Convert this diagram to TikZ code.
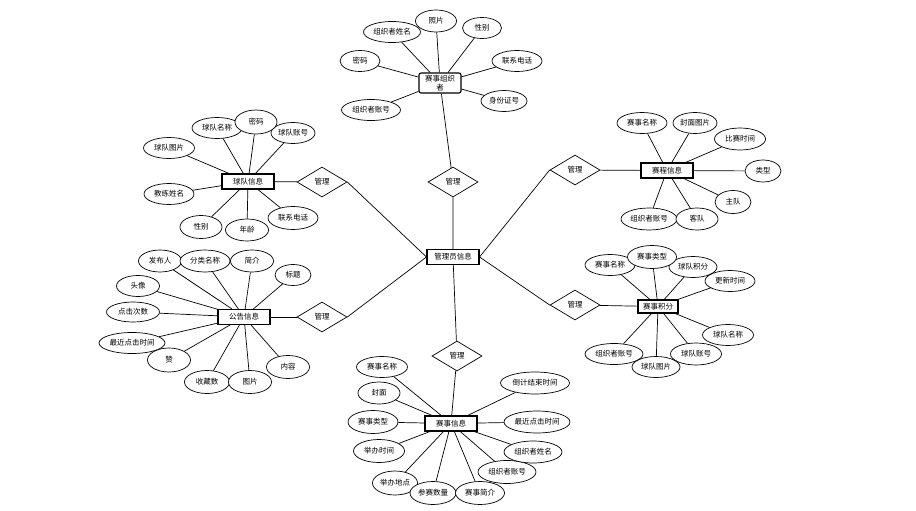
\documentclass[tikz,border=0pt]{standalone}
\usepackage{fontspec}
\setmainfont{Noto Sans CJK SC}
\usetikzlibrary{shapes}

\begin{document}
\begin{tikzpicture}[x=1pt, y=-1pt, line width=0.7pt,
  ent/.style={rectangle, draw, line width=1.1pt, fill=white, minimum width=52pt, minimum height=15pt, inner sep=1pt, font=\fontsize{7.5}{8.5}\selectfont},
  attr/.style={ellipse, draw, fill=white, minimum height=21pt, inner sep=0pt, font=\fontsize{7.5}{8.5}\selectfont},
  rel/.style={diamond, draw, fill=white, minimum width=50pt, minimum height=30pt, inner sep=0pt, font=\fontsize{7.5}{8.5}\selectfont}]

\useasboundingbox (0,0) rectangle (916,511);

% entities
\node[ent] (admin) at (453,257) {管理员信息};
\node[ent, rounded corners=2pt, align=center, minimum width=42pt, minimum height=20pt] (org) at (440,83) {赛事组织\\者};
\node[ent] (team) at (248,181.5) {球队信息};
\node[ent] (notice) at (244,317) {公告信息};
\node[ent] (event) at (451,423.5) {赛事信息};
\node[ent] (sched) at (667,170.5) {赛程信息};
\node[ent, minimum width=40pt, minimum height=13pt] (score) at (658,306.5) {赛事积分};

% relations
\node[rel] (D1) at (453,182) {管理};
\node[rel] (D2) at (322,182) {管理};
\node[rel] (D3) at (322,317) {管理};
\node[rel] (D4) at (575,170) {管理};
\node[rel] (D5) at (575,305) {管理};
\node[rel] (D6) at (457,356) {管理};

\draw (admin) -- (D1) -- (org);
\draw (D2.east) -- (admin.west);
\draw (D2) -- (team);
\draw (D3.east) -- (admin.west);
\draw (D3) -- (notice);
\draw (D4.west) -- (admin.east);
\draw (D4) -- (sched);
\draw (D5.west) -- (admin.east);
\draw (D5) -- (score);
\draw (admin) -- (D6) -- (event);

% organizer
\node[attr, minimum width=57pt] (O1) at (392,32) {组织者姓名};
\node[attr, minimum width=41pt, minimum height=22pt] (O2) at (436,21) {照片};
\node[attr, minimum width=39pt] (O3) at (482,28) {性别};
\node[attr, minimum width=50pt] (O4) at (517,61) {联系电话};
\node[attr, minimum width=46pt] (O5) at (504,101) {身份证号};
\node[attr, minimum width=59pt] (O6) at (371,110) {组织者账号};
\node[attr, minimum width=40pt] (O7) at (360,61) {密码};
\draw (org) -- (O1);
\draw (org) -- (O2);
\draw (org) -- (O3);
\draw (org) -- (O4);
\draw (org) -- (O5);
\draw (org) -- (O6);
\draw (org) -- (O7);

% team
\node[attr, minimum width=50pt] (T1) at (217,128) {球队名称};
\node[attr, minimum width=44pt] (T3) at (293,133) {球队账号};
\node[attr, minimum width=42pt, minimum height=24pt] (T2) at (256,122) {密码};
\node[attr, minimum width=51pt] (T4) at (169,148) {球队图片};
\node[attr, minimum width=50pt] (T5) at (169,194) {教练姓名};
\node[attr, minimum width=42pt, minimum height=23pt] (T6) at (201,227) {性别};
\node[attr, minimum width=43pt, minimum height=22pt] (T7) at (247,230) {年龄};
\node[attr, minimum width=50pt, minimum height=23pt] (T8) at (293,218) {联系电话};
\draw (team) -- (T1);
\draw (team) -- (T2);
\draw (team) -- (T3);
\draw (team) -- (T4);
\draw (team) -- (T5);
\draw (team) -- (T6);
\draw (team) -- (T7);
\draw (team) -- (T8);

% notice
\node[attr, minimum width=43pt, minimum height=22pt] (N1) at (160,261) {发布人};
\node[attr, minimum width=50pt, minimum height=22pt] (N2) at (205,261) {分类名称};
\node[attr, minimum width=43pt, minimum height=22pt] (N3) at (252,261) {简介};
\node[attr, minimum width=36pt] (N4) at (293,275) {标题};
\node[attr, minimum width=43pt] (N5) at (138,286) {头像};
\node[attr, minimum width=53pt, minimum height=20pt] (N6) at (133,312) {点击次数};
\node[attr, minimum width=66pt] (N7) at (132,343) {最近点击时间};
\node[attr, minimum width=43pt, minimum height=24pt] (N8) at (169,360) {赞};
\node[attr, minimum width=45pt, minimum height=23pt] (N9) at (207,382) {收藏数};
\node[attr, minimum width=43pt, minimum height=23pt] (N10) at (250,382) {图片};
\node[attr, minimum width=43pt, minimum height=23pt] (N11) at (288,367) {内容};
\draw (notice) -- (N1);
\draw (notice) -- (N2);
\draw (notice) -- (N3);
\draw (notice) -- (N4);
\draw (notice) -- (N5);
\draw (notice) -- (N6);
\draw (notice) -- (N7);
\draw (notice) -- (N8);
\draw (notice) -- (N9);
\draw (notice) -- (N10);
\draw (notice) -- (N11);

% event
\node[attr, minimum width=51pt] (E1) at (382,367) {赛事名称};
\node[attr, minimum width=42pt, minimum height=22pt] (E2) at (379,393) {封面};
\node[attr, minimum width=50pt, minimum height=23pt] (E3) at (373,422) {赛事类型};
\node[attr, minimum width=51pt, minimum height=23pt] (E4) at (379,451) {举办时间};
\node[attr, minimum width=45pt, minimum height=24pt] (E5) at (395,483) {举办地点};
\node[attr, minimum width=46pt, minimum height=23pt] (E6) at (433,493) {参赛数量};
\node[attr, minimum width=49pt, minimum height=23pt] (E7) at (480,493) {赛事简介};
\node[attr, minimum width=58pt, minimum height=23pt] (E8) at (507,472) {组织者账号};
\node[attr, minimum width=58pt, minimum height=22pt] (E9) at (533,452) {组织者姓名};
\node[attr, minimum width=66pt, minimum height=22pt] (E10) at (537,422) {最近点击时间};
\node[attr, minimum width=69pt, minimum height=22pt] (E11) at (535,383) {倒计结束时间};
\draw (event) -- (E1);
\draw (event) -- (E2);
\draw (event) -- (E3);
\draw (event) -- (E4);
\draw (event) -- (E5);
\draw (event) -- (E6);
\draw (event) -- (E7);
\draw (event) -- (E8);
\draw (event) -- (E9);
\draw (event) -- (E10);
\draw (event) -- (E11);

% schedule
\node[attr, minimum width=50pt] (S1) at (642,123) {赛事名称};
\node[attr, minimum width=44pt] (S2) at (695,123) {封面图片};
\node[attr, minimum width=51pt, minimum height=22pt] (S3) at (740,139) {比赛时间};
\node[attr, minimum width=36pt, minimum height=22pt] (S4) at (763,171) {类型};
\node[attr, minimum width=36pt, minimum height=23pt] (S5) at (733,202) {主队};
\node[attr, minimum width=56pt, minimum height=22pt] (S7) at (649,219) {组织者账号};
\node[attr, minimum width=42pt, minimum height=22pt] (S6) at (697,219) {客队};
\draw (sched) -- (S1);
\draw (sched) -- (S2);
\draw (sched) -- (S3);
\draw (sched) -- (S4);
\draw (sched) -- (S5);
\draw (sched) -- (S6);
\draw (sched) -- (S7);

% score
\node[attr, minimum width=50pt] (J1) at (610,265) {赛事名称};
\node[attr, minimum width=48pt] (J3) at (693,267) {球队积分};
\node[attr, minimum width=49pt, minimum height=23pt] (J2) at (652,257) {赛事类型};
\node[attr, minimum width=50pt] (J4) at (730,281) {更新时间};
\node[attr, minimum width=51pt] (J5) at (728,335) {球队名称};
\node[attr, minimum width=58pt] (J8) at (614,354) {组织者账号};
\node[attr, minimum width=51pt, minimum height=22pt] (J6) at (696,354) {球队账号};
\node[attr, minimum width=48pt] (J7) at (656,367) {球队图片};
\draw (score) -- (J1);
\draw (score) -- (J2);
\draw (score) -- (J3);
\draw (score) -- (J4);
\draw (score) -- (J5);
\draw (score) -- (J6);
\draw (score) -- (J7);
\draw (score) -- (J8);
\end{tikzpicture}
\end{document}
